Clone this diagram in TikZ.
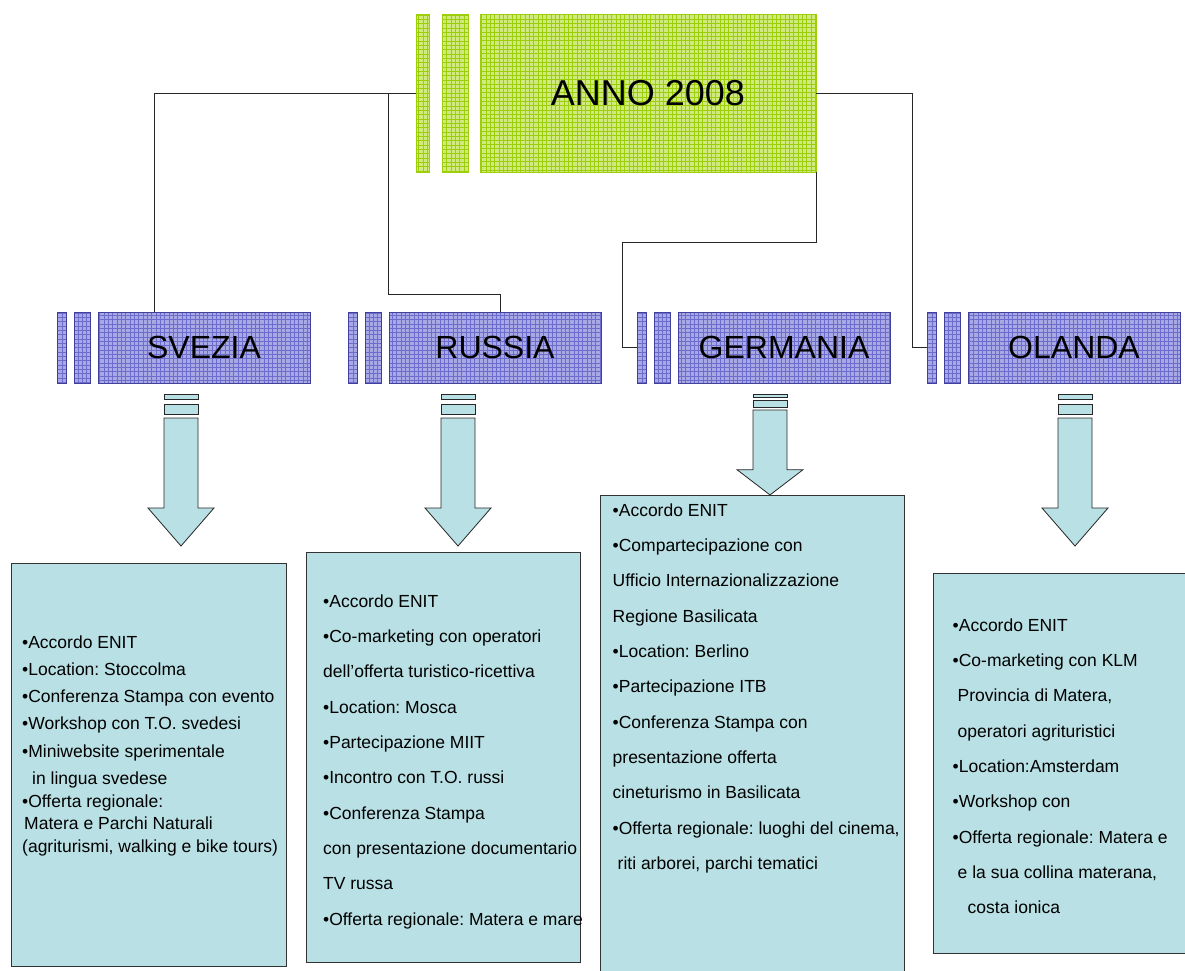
\documentclass[tikz,border=0pt]{standalone}
\usepackage{fontspec}
\setmainfont{Liberation Sans}
\usetikzlibrary{positioning}
\frenchspacing

\definecolor{annofill}{RGB}{208,234,128}
\definecolor{annoline}{RGB}{156,206,10}
\definecolor{statefill}{RGB}{168,168,228}
\definecolor{stateline}{RGB}{108,108,204}
\definecolor{stateedge}{RGB}{64,64,156}
\definecolor{infofill}{RGB}{185,224,228}

\tikzset{
  gridfill/.style={path picture={\draw[#1, line width=0.45pt, step=4.33pt]
      (path picture bounding box.south west) grid (path picture bounding box.north east);}},
  annobox/.style={draw=annoline, fill=annofill, gridfill=annoline, line width=0.8pt,
    inner sep=0pt, minimum height=158, font=\fontsize{36}{36}\selectfont},
  statebox/.style={draw=stateedge, fill=statefill, gridfill=stateline, line width=0.8pt,
    inner sep=0pt, minimum height=71, font=\fontsize{32}{32}\selectfont},
  infobox/.style={draw=black!80, fill=infofill, line width=0.8pt},
  infotext/.style={align=left, anchor=north west, inner sep=0pt,
    font=\fontsize{17.5}{35.3}\selectfont},
  blockarrow/.style={draw=black!85, fill=infofill, line width=0.8pt},
  conn/.style={draw=black!85, line width=0.8pt},
}

\begin{document}
\begin{tikzpicture}[x=1pt, y=-1pt]
  \useasboundingbox (0,0) rectangle (1185,970);

  % Year box
  \node[annobox, minimum width=336] (anno) at (648,93) {ANNO 2008};
  \node[annobox, minimum width=26, left=11pt of anno] (anno2) {};
  \node[annobox, minimum width=13, left=12pt of anno2] (anno1) {};

  % Countries
  \node[statebox, minimum width=212] (sve) at (204,347.5) {SVEZIA};
  \node[statebox, minimum width=16, left=7pt of sve] (sve2) {};
  \node[statebox, minimum width=9, left=7pt of sve2] (sve1) {};

  \node[statebox, minimum width=212] (rus) at (495,347.5) {RUSSIA};
  \node[statebox, minimum width=16, left=7pt of rus] (rus2) {};
  \node[statebox, minimum width=9, left=7pt of rus2] (rus1) {};

  \node[statebox, minimum width=212] (ger) at (784,347.5) {GERMANIA};
  \node[statebox, minimum width=16, left=7pt of ger] (ger2) {};
  \node[statebox, minimum width=9, left=7pt of ger2] (ger1) {};

  \node[statebox, minimum width=212] (ola) at (1074,347.5) {OLANDA};
  \node[statebox, minimum width=16, left=7pt of ola] (ola2) {};
  \node[statebox, minimum width=9, left=7pt of ola2] (ola1) {};

  % Branches
  \coordinate (rusfork) at (388,93);
  \draw[conn] (anno1.west) -| ([xshift=57pt]sve.north west);
  \draw[conn] (rusfork) |- ([xshift=112pt, yshift=17pt]rus.north west) -- ([xshift=112pt]rus.north west);
  \draw[conn] (anno.south east) -- ++(0,70) -| ([xshift=-15pt]ger1.west) -- (ger1.west);
  \draw[conn] (anno.east) -| ([xshift=-15pt]ola1.west) -- (ola1.west);

  % Block arrows
  \begin{scope}[shift={(181,394)}]
    \draw[blockarrow] (-17,0) rectangle (17,5);
    \draw[blockarrow] (-17,10) rectangle (17,20);
    \draw[blockarrow] (-17,24) -- (17,24) -- (17,114) -- (33,114) -- (0,152) -- (-33,114) -- (-17,114) -- cycle;
  \end{scope}
  \begin{scope}[shift={(458,394)}]
    \draw[blockarrow] (-17,0) rectangle (17,5);
    \draw[blockarrow] (-17,10) rectangle (17,20);
    \draw[blockarrow] (-17,24) -- (17,24) -- (17,114) -- (33,114) -- (0,152) -- (-33,114) -- (-17,114) -- cycle;
  \end{scope}
  \begin{scope}[shift={(770,394)}, yscale=0.664]
    \draw[blockarrow] (-17,0) rectangle (17,5);
    \draw[blockarrow] (-17,10) rectangle (17,20);
    \draw[blockarrow] (-17,24) -- (17,24) -- (17,114) -- (33,114) -- (0,152) -- (-33,114) -- (-17,114) -- cycle;
  \end{scope}
  \begin{scope}[shift={(1075,394)}]
    \draw[blockarrow] (-17,0) rectangle (17,5);
    \draw[blockarrow] (-17,10) rectangle (17,20);
    \draw[blockarrow] (-17,24) -- (17,24) -- (17,114) -- (33,114) -- (0,152) -- (-33,114) -- (-17,114) -- cycle;
  \end{scope}

  % Programme boxes
  \node[infobox, minimum width=275, minimum height=403] (svebox) at (148.5,764.5) {};
  \node[infotext, font=\fontsize{17.5}{27.2}\selectfont] (svetxt) at (22,635.5) {•Accordo ENIT\\
    •Location: Stoccolma\\
    •Conferenza Stampa con evento\\
    •Workshop con T.O. svedesi\\
    •Miniwebsite sperimentale\\
    \hspace{10pt}in lingua svedese\\[-4.5pt]
    •Offerta regionale:\\[-4.5pt]
    \hspace{2pt}Matera e Parchi Naturali\\[-4.5pt]
    (agriturismi, walking e bike tours)};

  \node[infobox, minimum width=274, minimum height=410] (rusbox) at (443,757) {};
  \node[infotext] (rustxt) at (323,594.5) {•Accordo ENIT\\
    •Co-marketing con operatori\\
    dell’offerta turistico-ricettiva\\
    •Location: Mosca\\
    •Partecipazione MIIT\\
    •Incontro con T.O. russi\\
    •Conferenza Stampa\\
    con presentazione documentario\\
    TV russa\\
    •Offerta regionale: Matera e mare};

  \node[infobox, minimum width=304, minimum height=480] (gerbox) at (752,735) {};
  \node[infotext] (gertxt) at (612.5,503.5) {•Accordo ENIT\\
    •Compartecipazione con\\
    Ufficio Internazionalizzazione\\
    Regione Basilicata\\
    •Location: Berlino\\
    •Partecipazione ITB\\
    •Conferenza Stampa con\\
    presentazione offerta\\
    cineturismo in Basilicata\\
    •Offerta regionale: luoghi del cinema,\\
    \hspace{5pt}riti arborei, parchi tematici};

  \node[infobox, minimum width=259, minimum height=380] (olabox) at (1062.5,763) {};
  \node[infotext] (olatxt) at (952.5,618.5) {•Accordo ENIT\\
    •Co-marketing con KLM\\
    \hspace{5pt}Provincia di Matera,\\
    \hspace{5pt}operatori agrituristici\\
    •Location:Amsterdam\\
    •Workshop con\\
    •Offerta regionale: Matera e\\
    \hspace{5pt}e la sua collina materana,\\
    \hspace{15pt}costa ionica};
\end{tikzpicture}
\end{document}
